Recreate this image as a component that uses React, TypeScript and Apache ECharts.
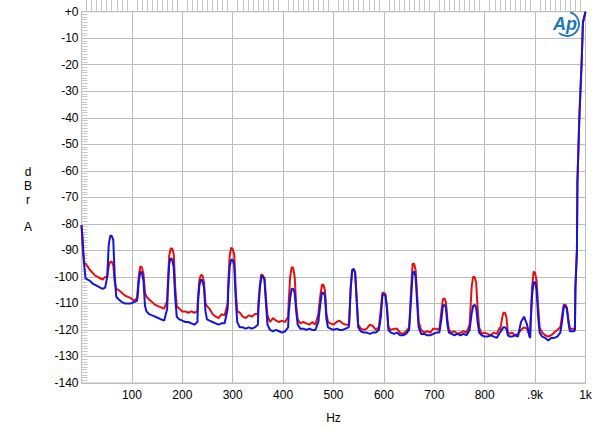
import React, { useEffect, useRef } from 'react';
import * as echarts from 'echarts';

// Frequency grid (Hz)
const freqHz = [
  0, 2, 5, 8, 12, 17, 22, 27, 32, 37, 42, 47,
  51, 54, 57, 60, 63, 66, 69, 74, 80, 86, 92, 98, 104, 110,
  111, 114, 117, 120, 123, 126, 129, 134, 140, 146, 152, 158, 164, 170,
  171, 174, 177, 180, 183, 186, 189, 194, 200, 206, 212, 218, 224, 230,
  231, 234, 237, 240, 243, 246, 249, 254, 260, 266, 272, 278, 284, 290,
  291, 294, 297, 300, 303, 306, 309, 314, 320, 326, 332, 338, 344, 350,
  351, 354, 357, 360, 363, 366, 369, 374, 380, 386, 392, 398, 404, 410,
  411, 414, 417, 420, 423, 426, 429, 434, 440, 446, 452, 458, 464, 470,
  471, 474, 477, 480, 483, 486, 489, 494, 500, 506, 512, 518, 524, 530,
  531, 534, 537, 540, 543, 546, 549, 554, 560, 566, 572, 578, 584, 590,
  591, 594, 597, 600, 603, 606, 609, 614, 620, 626, 632, 638, 644, 650,
  651, 654, 657, 660, 663, 666, 669, 674, 680, 686, 692, 698, 704, 710,
  711, 714, 717, 720, 723, 726, 729, 734, 740, 746, 752, 758, 764, 770,
  771, 774, 777, 780, 783, 786, 789, 794, 800, 806, 812, 818, 824, 830,
  831, 834, 837, 840, 843, 846, 849, 854, 860, 866, 872, 878, 884, 890,
  891, 894, 897, 900, 903, 906, 909, 914, 920, 926, 932, 938, 944, 950,
  951, 954, 957, 960, 963, 966, 969, 974, 977,
  979, 980, 983, 984, 987, 988, 991, 992, 995, 1000,
];

// Red trace (dBrA)
const redDb = [
  -80.5, -88, -94.5, -95, -96, -97.5, -98.5, -99.5, -100, -100.5, -101, -100,
  -100, -96, -94.3, -94.3, -95.5, -102, -104.5, -105, -106, -107, -107.5, -108, -109, -108,
  -106, -99, -96, -96.5, -99, -106, -107.5, -108.5, -109.5, -110.5, -111, -111.5, -112, -109,
  -104, -92, -89.3, -89.3, -91.5, -104, -111, -112, -113, -113, -113.5, -113, -113.5, -113,
  -108, -101, -99.2, -99.5, -102, -110, -111, -112, -114, -115, -115.5, -114, -114.5, -110,
  -103, -92, -89, -89.5, -91.5, -105, -113, -113.5, -115, -115.5, -114.5, -115, -114, -114,
  -110, -103, -99, -99.5, -100.5, -108, -114.5, -117, -115.5, -116.5, -117, -116.5, -117, -115,
  -110, -100, -96.3, -96.5, -100, -111, -116, -117.5, -117, -117.5, -118, -117, -118, -114,
  -112, -107, -103, -103, -105, -114, -117, -117.5, -118, -117, -116.5, -117.5, -118, -118,
  -117, -104, -97.5, -97, -98.5, -108, -118, -119.5, -120, -119.5, -118, -118.5, -120, -119,
  -119, -112, -106, -106, -106.5, -111, -119, -120, -119.5, -119.5, -121, -121.5, -120.5, -119,
  -116, -105, -95, -95, -97.5, -107, -117, -120, -121, -120.5, -121, -119.5, -119.5, -120,
  -120, -113, -108.5, -108, -109.5, -116, -120, -121, -120.5, -121.5, -121, -120.5, -121, -118,
  -115, -104, -100, -100, -102, -112, -119, -121.5, -121, -121.5, -122, -121, -121.5, -119,
  -120, -116, -113.5, -113.5, -115, -121, -121.5, -121, -122, -121.5, -120, -119, -119.5, -123,
  -117, -104, -98, -98.5, -101.5, -111, -119, -121, -122, -122.5, -122, -121, -120, -119,
  -119, -114, -110.5, -110.5, -111.5, -116, -119.5, -119.5, -119.5,
  -120, -104, -90, -64, -45, -39, -25, -21, -4, 0,
];

// Blue trace (dBrA)
const blueDb = [
  -80.5, -85, -95, -100.5, -101, -101.5, -102.5, -103, -103.5, -104, -104.5, -104,
  -100, -88, -84.5, -84.5, -86, -100, -107.5, -108.5, -109.5, -110, -110, -110, -109.5, -109,
  -108, -101, -98, -98.5, -101.5, -111, -113, -114, -114.5, -115, -115.5, -116, -116.5, -112,
  -106, -95, -93, -93.5, -96.5, -108, -115, -116, -116.5, -117, -117, -117.5, -118, -117,
  -110, -103, -101, -101.5, -104, -113, -116, -116.5, -117, -117.5, -118, -117.5, -117.5, -112,
  -106, -96, -93.5, -93.5, -95.5, -108, -117, -119, -119, -119.5, -119, -119.5, -119, -118,
  -112, -104, -99.5, -100, -101, -110, -118, -120, -120.5, -120, -120.5, -121, -120.5, -119,
  -114, -108, -104.5, -104.5, -106, -113, -118, -119.5, -119.5, -120, -119.5, -120, -120, -117,
  -115, -110, -106, -106, -107, -116, -119, -119.5, -120, -119.5, -120, -120, -119.5, -119,
  -118, -105, -97.5, -97, -98.5, -109, -119, -120.5, -121, -121, -121.5, -121, -121, -120,
  -120, -115, -107, -106.5, -107, -112, -120, -121, -121.5, -121, -122, -122, -121.5, -120,
  -117, -108, -98.5, -98, -100, -110, -119, -121.5, -121.5, -122, -122, -121.5, -121, -121,
  -121, -116, -111, -110.5, -111.5, -118, -121, -121.5, -122, -121.5, -122, -121.5, -122, -120,
  -120, -114, -111, -110.5, -111.5, -117, -121, -122, -122.5, -122.5, -122, -122.5, -123, -121,
  -121, -120, -119, -119, -119.5, -122, -122.5, -122.5, -122, -122.5, -117, -115, -118, -123,
  -118, -107, -102, -102, -105, -115, -121, -122.5, -123, -124, -123, -123, -122.5, -121,
  -120, -116, -111, -111, -112, -117, -120.5, -120.5, -120.5,
  -120, -104, -90, -64, -45, -39, -25, -21, -4, 0,
];

const xTickValues = [100, 200, 300, 400, 500, 600, 700, 800, 900, 1000];
const xTickLabels = ['100', '200', '300', '400', '500', '600', '700', '800', '.9k', '1k'];
const yAxisTitle = ['d', 'B', 'r', '', 'A'];
const xAxisTitle = 'Hz';

const FONT = '"Liberation Sans", Arial, sans-serif';
const GRID_COLOR = '#bdbdbd';

export default function App() {
  const ref = useRef<HTMLDivElement>(null);

  useEffect(() => {
    if (!ref.current) return;
    const chart = echarts.init(ref.current, undefined, { renderer: 'svg' });

    const pairs = (vals: number[]) => freqHz.map((f, i) => [f, vals[i]]);

    const option: any = {
      animation: false,
      backgroundColor: '#ffffff',
      grid: {
        left: 81.5,
        top: 11.7,
        right: 14.5,
        bottom: 41.3,
        show: true,
        borderColor: GRID_COLOR,
        borderWidth: 1,
        backgroundColor: 'transparent',
      },
      xAxis: {
        type: 'value',
        min: 0,
        max: 1000,
        interval: 100,
        name: xAxisTitle,
        nameLocation: 'middle',
        nameGap: 29,
        nameTextStyle: { color: '#000', fontSize: 12, fontFamily: FONT },
        axisLine: { show: true, lineStyle: { color: GRID_COLOR, width: 1 } },
        axisTick: { show: false, inside: true, length: 14 },
        minorTick: { show: true, splitNumber: 10, length: 14, lineStyle: { color: '#c4c4c4', width: 1 } },
        splitLine: { show: true, lineStyle: { color: GRID_COLOR, width: 1 } },
        axisLabel: {
          color: '#000',
          fontSize: 12,
          fontFamily: FONT,
          margin: 6,
          showMinLabel: false,
          formatter: (v: number) => {
            const i = xTickValues.indexOf(v);
            return i >= 0 ? xTickLabels[i] : '';
          },
        },
      },
      yAxis: {
        type: 'value',
        min: -140,
        max: 0,
        interval: 10,
        axisLine: { show: true, lineStyle: { color: GRID_COLOR, width: 1 } },
        axisTick: { show: false, inside: true, length: 6 },
        minorTick: { show: true, splitNumber: 10, length: 6, lineStyle: { color: '#c8c8c8', width: 1 } },
        splitLine: { show: true, lineStyle: { color: GRID_COLOR, width: 1 } },
        axisLabel: {
          color: '#000',
          fontSize: 12,
          fontFamily: FONT,
          margin: 3,
          formatter: (v: number) => (v === 0 ? '+0' : String(v)),
        },
      },
      series: [
        {
          type: 'line',
          data: pairs(redDb),
          showSymbol: false,
          symbol: 'none',
          lineStyle: { color: '#e41010', width: 2 },
          z: 2,
        },
        {
          type: 'line',
          data: pairs(blueDb),
          showSymbol: false,
          symbol: 'none',
          lineStyle: { color: '#1414dc', width: 2 },
          z: 3,
        },
      ],
      graphic: [
        {
          type: 'text',
          x: 28,
          y: 199.5,
          style: {
            text: yAxisTitle.join('\n'),
            fontSize: 12,
            lineHeight: 13.9,
            fontFamily: FONT,
            fill: '#000',
            align: 'center',
            verticalAlign: 'middle',
          },
        },
        {
          type: 'text',
          x: 565,
          y: 24,
          z: 10,
          style: {
            text: 'Ap',
            fontSize: 18,
            fontStyle: 'italic',
            fontWeight: 'bold',
            fontFamily: FONT,
            fill: '#2277b8',
            align: 'center',
            verticalAlign: 'middle',
          },
        },
        {
          type: 'arc',
          z: 10,
          shape: { cx: 567, cy: 24, r: 12, startAngle: -1.3, endAngle: 2.3, clockwise: true },
          style: { stroke: '#2277b8', lineWidth: 1.8, fill: 'none' },
        },
      ],
    };

    chart.setOption(option);
    return () => chart.dispose();
  }, []);

  return (
    <div
      ref={ref}
      style={{ position: 'fixed', left: 0, top: 0, width: 600, height: 429, background: '#fff' }}
    />
  );
}
